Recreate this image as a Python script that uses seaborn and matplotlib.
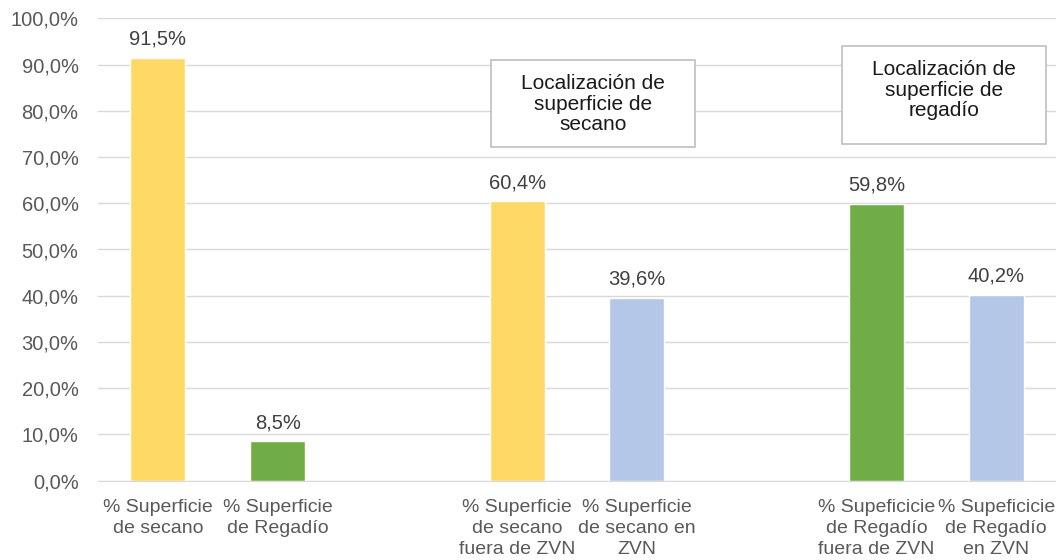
import matplotlib
matplotlib.use("Agg")
import matplotlib.pyplot as plt
import seaborn as sns
import pandas as pd
from matplotlib.patches import Rectangle

# chart data (empty slots keep the gaps between groups)
labels = ["% Superficie\nde secano", "% Superficie\nde Regadío", "",
          "% Superficie\nde secano\nfuera de ZVN", "% Superficie\nde secano en\nZVN", " ",
          "% Supeficicie\nde Regadío\nfuera de ZVN", "% Supeficicie\nde Regadío\nen ZVN"]
values = [91.5, 8.5, None, 60.4, 39.6, None, 59.8, 40.2]
colors = ["#FFD966", "#70AD47", "#FFFFFF", "#FFD966", "#B4C7E7", "#FFFFFF", "#70AD47", "#B4C7E7"]
box_texts = ["Localización de\nsuperficie de\nsecano", "Localización de\nsuperficie de\nregadío"]

W, H = 1056, 560

sns.set_style("white")
plt.rcParams['font.family'] = ['Liberation Sans', 'DejaVu Sans']

df = pd.DataFrame({"label": labels, "value": values})
fig = plt.figure(figsize=(W / 100, H / 100), dpi=100)
ax = fig.add_axes([98 / W, 1 - 480.7 / H, 1 - 98 / W, (480.7 - 18.3) / H])

sns.barplot(data=df, x="label", y="value", hue="label", order=labels, hue_order=labels,
            palette=colors, width=0.46, legend=False, ax=ax, saturation=1)

ax.set_ylim(0, 100)
ax.set_xlim(-0.5, len(labels) - 0.5)
ax.set_yticks(range(0, 101, 10))
ax.set_yticklabels([f"{t},0%" for t in range(0, 101, 10)])
ax.yaxis.grid(True, color="#d9d9d9", linewidth=1)
ax.set_axisbelow(True)
for s in ["top", "right", "left"]:
    ax.spines[s].set_visible(False)
ax.spines["bottom"].set_color("#d9d9d9")
ax.tick_params(axis="x", length=0, labelsize=14, colors="#595959", pad=13)
ax.tick_params(axis="y", length=0, labelsize=14.5, colors="#595959", pad=14)
for lbl in ax.get_xticklabels():
    lbl.set_linespacing(1.3)
ax.set_xlabel("")
ax.set_ylabel("")

# value labels
for i, v in enumerate(values):
    if v is None:
        continue
    ax.text(i, v + 2.0, f"{v:.1f}%".replace(".", ","), ha="center", va="bottom",
            fontsize=14.5, color="#404040")

# annotation boxes (pixel positions)
boxes = [(491, 60, 695, 147, 104), (842, 46, 1046, 144, 90)]
for (x0, y0, x1, y1, ty), txt in zip(boxes, box_texts):
    fig.patches.append(Rectangle((x0 / W, 1 - y1 / H), (x1 - x0) / W, (y1 - y0) / H,
                                 transform=fig.transFigure, facecolor="white",
                                 edgecolor="#bfbfbf", linewidth=1.2, zorder=5))
    fig.text((x0 + x1) / 2 / W, 1 - ty / H, txt, ha="center", va="center", fontsize=15,
             color="#1a1a1a", linespacing=1.1, zorder=6)

fig.savefig("out.png", dpi=100)
